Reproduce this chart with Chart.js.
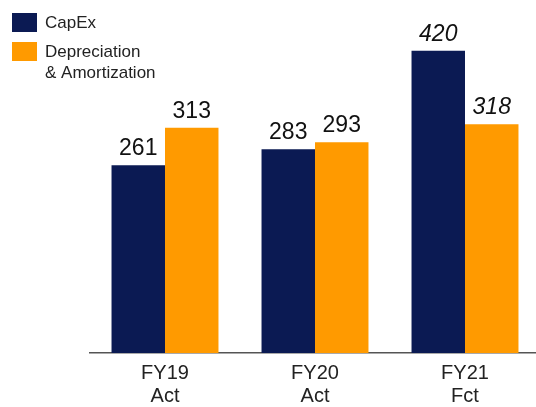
<!DOCTYPE html>
<html>
<head>
<meta charset="utf-8">
<title>CapEx vs D&amp;A</title>
<script src="https://cdn.jsdelivr.net/npm/chart.js"></script>
<style>
  html, body { margin: 0; padding: 0; background: #fff; overflow: hidden; }
  #wrap { width: 536px; height: 407px; overflow: hidden; }
</style>
</head>
<body>
<div id="wrap"><canvas id="chart" width="545" height="407"></canvas></div>
<script>
// Data
const categories = [["FY19", "Act"], ["FY20", "Act"], ["FY21", "Fct"]];
const capex = [261, 283, 420];
const depAmort = [313, 293, 318];
const isForecast = [false, false, true];
const seriesNames = ["CapEx", ["Depreciation", "& Amortization"]];

const NAVY = "#0b1a53";
const ORANGE = "#ff9a00";
const FONT = "'Liberation Sans', Arial, sans-serif";

// value labels above each bar, italic for forecast years
const valueLabels = {
  id: "valueLabels",
  afterDatasetsDraw(chart) {
    const ctx = chart.ctx;
    ctx.save();
    ctx.fillStyle = "#111";
    ctx.textAlign = "center";
    ctx.textBaseline = "bottom";
    chart.data.datasets.forEach((ds, di) => {
      chart.getDatasetMeta(di).data.forEach((bar, i) => {
        ctx.font = (isForecast[i] ? "italic " : "") + "23px " + FONT;
        ctx.fillText(String(ds.data[i]), bar.x, bar.y - 5);
      });
    });
    ctx.restore();
  }
};

// legend in the top-left corner
const cornerLegend = {
  id: "cornerLegend",
  afterDraw(chart) {
    const ctx = chart.ctx;
    ctx.save();
    ctx.font = "17px " + FONT;
    ctx.textBaseline = "middle";
    let y = 13;
    chart.data.datasets.forEach((ds, di) => {
      ctx.fillStyle = ds.backgroundColor;
      ctx.fillRect(12, y, 25, 19);
      ctx.fillStyle = "#222";
      const lines = Array.isArray(seriesNames[di]) ? seriesNames[di] : [seriesNames[di]];
      lines.forEach((t, li) => ctx.fillText(t, 45, y + 10 + li * 21));
      y += 29;
    });
    ctx.restore();
  }
};

new Chart(document.getElementById("chart"), {
  type: "bar",
  data: {
    labels: categories,
    datasets: [
      { label: "CapEx", data: capex, backgroundColor: NAVY },
      { label: "Depreciation & Amortization", data: depAmort, backgroundColor: ORANGE }
    ]
  },
  options: {
    responsive: false,
    animation: false,
    layout: { padding: { left: 90, right: 5, top: 22, bottom: 0 } },
    datasets: { bar: { barPercentage: 1, categoryPercentage: 0.713 } },
    plugins: { legend: { display: false }, tooltip: { enabled: false } },
    scales: {
      y: { display: false, min: 0, max: 460 },
      x: {
        grid: { display: false },
        border: { display: true, color: "#555", width: 1.5 },
        ticks: { color: "#222", font: { family: FONT, size: 20, lineHeight: 1.15 }, padding: 1, maxRotation: 0 },
        afterFit(scale) { scale.height = 54; }
      }
    }
  },
  plugins: [valueLabels, cornerLegend]
});
</script>
</body>
</html>
